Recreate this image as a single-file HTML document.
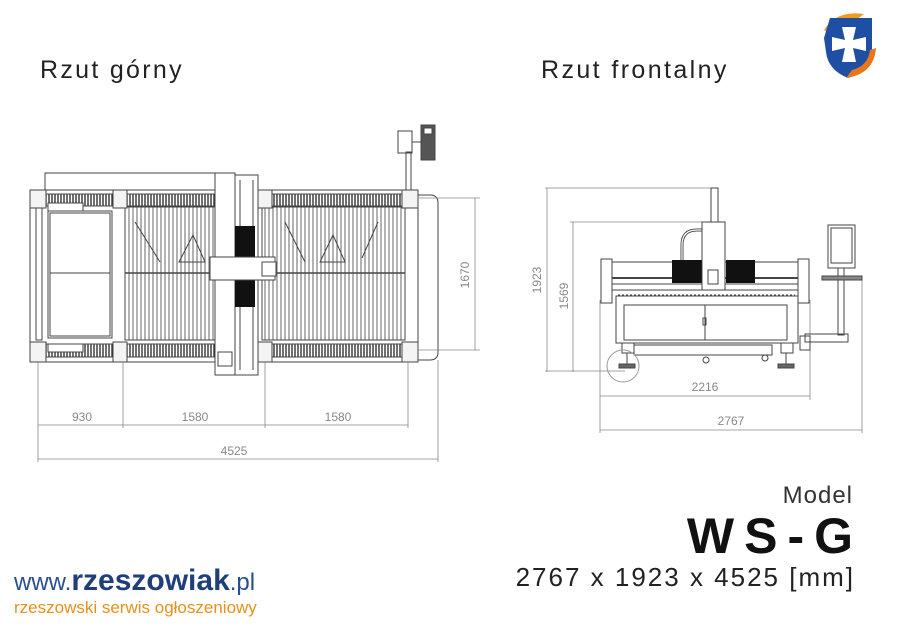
<!DOCTYPE html>
<html><head><meta charset="utf-8"><style>
html,body{margin:0;padding:0;background:#fff;}
body{width:900px;height:636px;overflow:hidden;position:relative;font-family:"Liberation Sans","DejaVu Sans",sans-serif;}
.t{position:absolute;white-space:nowrap;}
</style></head><body>
<svg width="900" height="636" viewBox="0 0 900 636" style="position:absolute;left:0;top:0">
<defs>
<pattern id="sl" width="4" height="10" patternUnits="userSpaceOnUse"><rect width="4" height="10" fill="#fff"/><line x1="1" y1="0" x2="1" y2="10" stroke="#555" stroke-width="0.9"/></pattern>
<pattern id="sd" width="3" height="10" patternUnits="userSpaceOnUse"><rect width="3" height="10" fill="#fff"/><line x1="1" y1="0" x2="1" y2="10" stroke="#333" stroke-width="1.4"/></pattern>
</defs>
<g fill="none" stroke="#444" stroke-width="1">
<path d="M418 195 H430 Q438 195 438 203 V352 Q438 360 430 360 H418"/>
<rect x="45" y="173" width="170" height="17"/>
<rect x="30" y="190" width="388" height="172"/>
<rect x="125" y="207" width="90" height="133" fill="url(#sl)"/>
<rect x="262" y="207" width="143" height="133" fill="url(#sl)"/>
<rect x="45" y="194" width="170" height="12" fill="url(#sd)"/>
<rect x="262" y="194" width="143" height="12" fill="url(#sd)"/>
<rect x="45" y="344" width="170" height="13" fill="url(#sd)"/>
<rect x="262" y="344" width="143" height="13" fill="url(#sd)"/>
<rect x="48" y="203" width="35" height="8" fill="#fff"/>
<rect x="48" y="344" width="35" height="8" fill="#fff"/>
<rect x="36" y="208" width="6" height="132"/>
<rect x="48" y="211" width="64" height="127"/>
<rect x="50" y="213" width="60" height="123"/>
<line x1="50" y1="273" x2="110" y2="273"/>
<line x1="125" y1="273" x2="405" y2="273" stroke-width="1.6"/>
<rect x="30" y="190" width="16" height="18" fill="#f4f4f4"/>
<rect x="113" y="190" width="14" height="18" fill="#f4f4f4"/>
<rect x="258" y="190" width="14" height="18" fill="#f4f4f4"/>
<rect x="402" y="190" width="16" height="18" fill="#f4f4f4"/>
<rect x="30" y="342" width="16" height="20" fill="#f4f4f4"/>
<rect x="113" y="342" width="14" height="20" fill="#f4f4f4"/>
<rect x="258" y="342" width="14" height="20" fill="#f4f4f4"/>
<rect x="402" y="342" width="16" height="20" fill="#f4f4f4"/>
<path d="M179 262 L193 235 L205 262 Z M320 262 L333 235 L345 262 Z"/>
<path d="M135 222 L160 262 M285 222 L305 262 M378 222 L362 258"/>
<rect x="215" y="173" width="20" height="202" fill="#fff"/>
<rect x="235" y="175" width="23" height="200" fill="#fff"/>
<line x1="240" y1="180" x2="240" y2="370"/><line x1="253" y1="180" x2="253" y2="370"/>
<rect x="235" y="226" width="20" height="32" fill="#111" stroke="none"/>
<rect x="235" y="280" width="20" height="27" fill="#111" stroke="none"/>
<rect x="210" y="257" width="65" height="23" fill="#fff"/>
<rect x="262" y="262" width="14" height="14" fill="#fff"/>
<rect x="218" y="352" width="14" height="14"/>
<rect x="398" y="131" width="14" height="22" fill="#fff"/>
<rect x="421" y="125" width="14" height="35" fill="#555"/>
<rect x="424" y="128" width="8" height="6" fill="#fff"/>
<line x1="412" y1="142" x2="421" y2="142"/>
<rect x="406" y="152" width="5" height="38"/>
<g stroke="#888" stroke-width="0.8">
<line x1="38" y1="362" x2="38" y2="462"/>
<line x1="123" y1="362" x2="123" y2="428"/>
<line x1="265" y1="362" x2="265" y2="428"/>
<line x1="408" y1="362" x2="408" y2="428"/>
<line x1="438" y1="360" x2="438" y2="462"/>
<line x1="38" y1="425" x2="408" y2="425"/>
<line x1="38" y1="459" x2="438" y2="459"/>
<line x1="418" y1="198" x2="480" y2="198"/>
<line x1="418" y1="350" x2="480" y2="350"/>
<line x1="475" y1="198" x2="475" y2="350"/>
</g>
<g stroke="#888" stroke-width="0.8">
<line x1="545" y1="188" x2="713" y2="188"/>
<line x1="547" y1="188" x2="547" y2="372"/>
<line x1="570" y1="222" x2="705" y2="222"/>
<line x1="573" y1="222" x2="573" y2="372"/>
<line x1="545" y1="371" x2="625" y2="371"/>
<line x1="600" y1="300" x2="600" y2="433"/>
<line x1="810" y1="300" x2="810" y2="400"/>
<line x1="862" y1="280" x2="862" y2="433"/>
<line x1="600" y1="396" x2="810" y2="396"/>
<line x1="600" y1="430" x2="862" y2="430"/>
</g>
<rect x="711" y="188" width="7" height="34"/>
<path d="M682 260 V245 Q682 230 697 230 H702" stroke-width="3"/>
<path d="M682 260 V245 Q682 230 697 230 H702" stroke="#fff" stroke-width="1.2"/>
<rect x="601" y="259" width="11" height="44" fill="#fff"/>
<rect x="798" y="259" width="11" height="44" fill="#fff"/>
<rect x="612" y="262" width="186" height="28"/>
<line x1="612" y1="278" x2="798" y2="278" stroke-width="2"/>
<line x1="612" y1="284" x2="798" y2="284"/>
<rect x="672" y="260" width="30" height="23" fill="#111" stroke="none"/>
<rect x="726" y="260" width="29" height="23" fill="#111" stroke="none"/>
<rect x="702" y="222" width="23" height="68" fill="#fff"/>
<rect x="708" y="270" width="10" height="14" fill="#fff"/>
<line x1="618" y1="295" x2="795" y2="295" stroke-dasharray="2 2"/>
<rect x="616" y="296" width="182" height="47" fill="#fff"/>
<rect x="624" y="305" width="163" height="35"/>
<line x1="705" y1="305" x2="705" y2="340"/>
<rect x="703" y="318" width="3" height="7"/>
<rect x="622" y="343" width="12" height="10"/>
<rect x="781" y="343" width="12" height="10"/>
<rect x="634" y="345" width="138" height="10"/>
<line x1="627" y1="353" x2="627" y2="364"/><line x1="786" y1="353" x2="786" y2="364"/>
<rect x="619" y="364" width="16" height="4" fill="#666"/>
<rect x="778" y="364" width="16" height="4" fill="#666"/>
<circle cx="623" cy="366" r="16" stroke="#999"/>
<circle cx="706" cy="360" r="3"/><circle cx="765" cy="358" r="3"/>
<rect x="828" y="225" width="27" height="43" fill="#fff"/>
<rect x="831" y="228" width="21" height="35"/>
<rect x="822" y="276" width="40" height="4" fill="#888"/>
<rect x="838" y="268" width="6" height="8"/>
<rect x="838" y="280" width="6" height="55"/>
<path d="M805 334 H848 V342 H805 Z"/>
<rect x="800" y="336" width="10" height="14"/>
</g>
<g font-family="Liberation Sans, sans-serif" font-size="12" fill="#888" text-anchor="middle">
<text x="82" y="421">930</text>
<text x="195" y="421">1580</text>
<text x="338" y="421">1580</text>
<text x="234" y="455">4525</text>
<text transform="translate(469,275) rotate(-90)">1670</text>
<text x="705" y="391">2216</text>
<text x="731" y="425">2767</text>
<text transform="translate(541,280) rotate(-90)">1923</text>
<text transform="translate(568,296) rotate(-90)">1569</text>
</g>
<g>
<path d="M824 30 Q836 10 864 14 L856 20 Q838 20 830 34 Z" fill="#f29a1f"/>
<path d="M824 38 L830 18 H872 V50 Q870 70 848 78 Q828 70 826 52 Z" fill="#1e4fa3"/>
<path d="M842 27 H856 L853 40 L866 37 V51 L853 48 L856 62 H842 L845 48 L832 51 V37 L845 40 Z" fill="#fff"/>
<path d="M876 48 Q874 74 846 78 L852 70 Q868 66 870 50 Z" fill="#e8771c"/>
</g>
</svg>
<div class="t" style="left:40px;top:56px;font-size:25px;letter-spacing:2.3px;color:#222">Rzut górny</div>
<div class="t" style="left:541px;top:56px;font-size:25px;letter-spacing:2.4px;color:#222">Rzut frontalny</div>
<div class="t" style="right:47px;top:482px;font-size:24px;letter-spacing:1px;color:#333">Model</div>
<div class="t" style="right:47px;top:507px;font-size:50px;font-weight:bold;color:#111;letter-spacing:10px;margin-right:-10px">WS-G</div>
<div class="t" style="right:47px;top:562px;font-size:26px;letter-spacing:2px;margin-right:-2px;color:#222">2767 x 1923 x 4525 [mm]</div>
<div class="t" style="left:14px;top:564px;font-size:30px;color:#2a4f8f"><span style="font-size:24px">www.</span><span style="font-weight:bold;color:#1e3f7a">rzeszowiak</span><span style="font-size:24px">.pl</span></div>
<div class="t" style="left:14px;top:598px;font-size:17px;color:#e8901c">rzeszowski serwis ogłoszeniowy</div>
</body></html>
